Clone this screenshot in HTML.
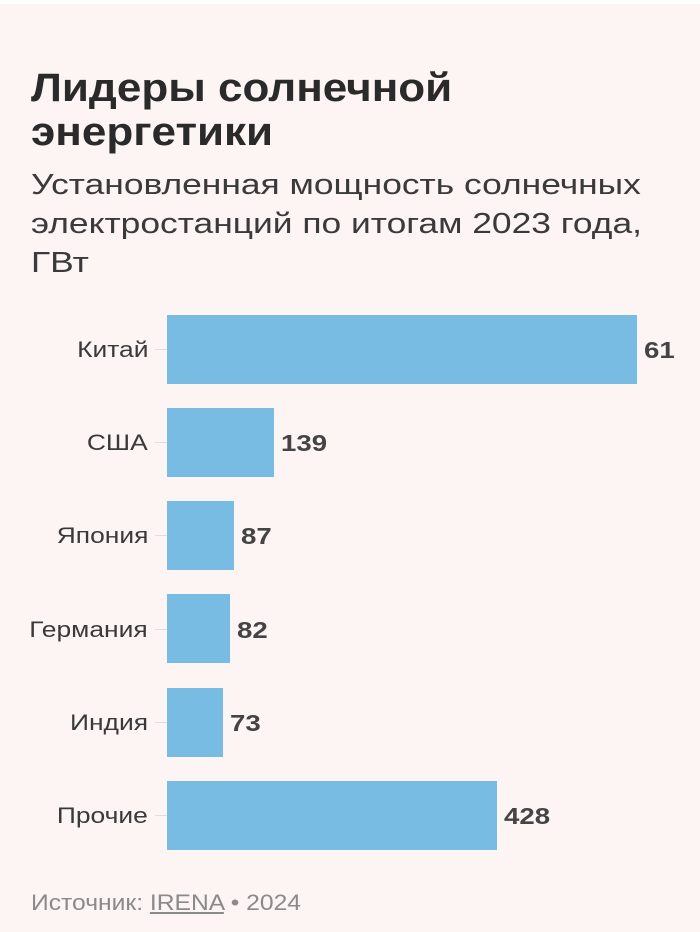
<!DOCTYPE html>
<html><head><meta charset="utf-8"><style>
body{margin:0;width:700px;height:932px;background:#fdf4f4;position:relative;overflow:hidden;font-family:"Liberation Sans",sans-serif;color:#2b2b2b}
.top{position:absolute;left:0;top:0;width:700px;height:4px;background:#fff}
.t{position:absolute;left:31px;top:66px;font-size:40px;font-weight:bold;line-height:44px;color:#2a2a2a;transform:scaleX(1.1);transform-origin:left top;white-space:nowrap}
.s{position:absolute;left:31px;top:166px;font-size:29px;line-height:39px;color:#3a3a3a;transform:scaleX(1.22);transform-origin:left top;white-space:nowrap}
.l{position:absolute;right:552px;font-size:22px;color:#3a3a3a;line-height:26px;transform:scaleX(1.2);transform-origin:right top;white-space:nowrap}
.tk{position:absolute;left:155px;width:12px;height:1px;background:#e3dcdc}
.b{position:absolute;left:167px;height:69px;background:#78bbe3}
.v{position:absolute;font-size:23px;font-weight:bold;color:#444;line-height:26px;transform:scaleX(1.2);transform-origin:left top}
.src{position:absolute;left:31px;top:890px;font-size:22px;color:#8a8a8a;transform:scaleX(1.12);transform-origin:left top;white-space:nowrap}
</style></head><body>
<div class="top"></div>
<div class="t">Лидеры солнечной<br>энергетики</div>
<div class="s">Установленная мощность солнечных<br>электростанций по итогам 2023 года,<br>ГВт</div>

<div class="l" style="top:337px">Китай</div><div class="tk" style="top:349px"></div>
<div class="b" style="top:315px;width:470px"></div><div class="v" style="left:644px;top:337px">61</div>

<div class="l" style="top:430px">США</div><div class="tk" style="top:442px"></div>
<div class="b" style="top:408px;width:107px"></div><div class="v" style="left:281px;top:430px">139</div>

<div class="l" style="top:523px">Япония</div><div class="tk" style="top:535px"></div>
<div class="b" style="top:501px;width:67px"></div><div class="v" style="left:241px;top:523px">87</div>

<div class="l" style="top:617px">Германия</div><div class="tk" style="top:629px"></div>
<div class="b" style="top:594px;width:63px"></div><div class="v" style="left:237px;top:617px">82</div>

<div class="l" style="top:710px">Индия</div><div class="tk" style="top:722px"></div>
<div class="b" style="top:688px;width:56px"></div><div class="v" style="left:230px;top:710px">73</div>

<div class="l" style="top:803px">Прочие</div><div class="tk" style="top:815px"></div>
<div class="b" style="top:781px;width:330px"></div><div class="v" style="left:504px;top:803px">428</div>

<div class="src">Источник: <span style="text-decoration:underline">IRENA</span> • 2024</div>
</body></html>
